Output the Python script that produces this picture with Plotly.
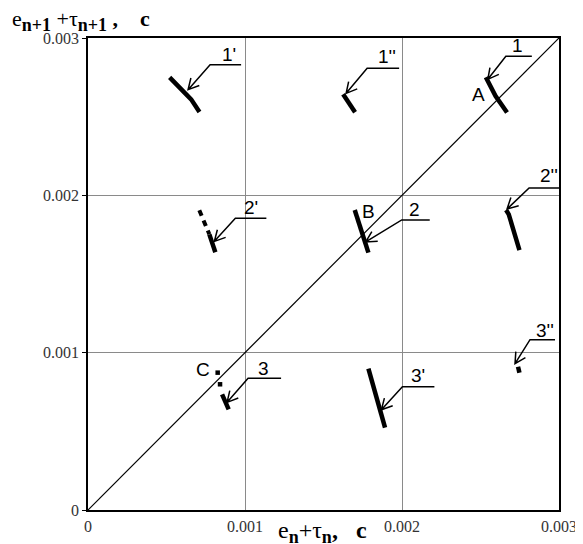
import math

import plotly.graph_objects as go

# ---------------------------------------------------------------------------
# Point clusters (seconds):  x = e_n + tau_n,  y = e_n+1 + tau_n+1
# ---------------------------------------------------------------------------

diag_x = [0.0, 0.003]
diag_y = [0.0, 0.003]

x_1p = [0.00052, 0.000593, 0.000657, 0.00071]
y_1p = [0.00275, 0.002678, 0.00261, 0.00253]

x_1pp = [0.001625, 0.001663, 0.001701]
y_1pp = [0.002642, 0.002585, 0.002528]

x_1 = [0.002534, 0.002596, 0.002669]
y_1 = [0.00275, 0.002631, 0.002526]

x_2p_dash = [0.000709, 0.000773]
y_2p_dash = [0.001905, 0.001752]
x_2p = [0.000773, 0.000811]
y_2p = [0.001752, 0.001638]

x_2 = [0.001699, 0.001743, 0.001786]
y_2 = [0.001907, 0.001771, 0.001636]

x_2pp = [0.002663, 0.00268, 0.002748]
y_2pp = [0.001907, 0.001879, 0.001652]

x_3_dots = [0.000826, 0.000841]
y_3_dots = [0.000873, 0.000799]
x_3 = [0.000854, 0.000896]
y_3 = [0.000735, 0.00064]

x_3p = [0.001786, 0.001839, 0.001892]
y_3p = [0.000898, 0.000711, 0.000523]

x_3pp = [0.002739, 0.002748]
y_3pp = [0.000911, 0.000873]

tick_vals = [0.0, 0.001, 0.002, 0.003]
tick_text = ["0", "0.001", "0.002", "0.003"]

SANS = "Liberation Sans, Arial, sans-serif"
SERIF = "Liberation Serif, Times New Roman, serif"

fig = go.Figure()

# bisector y = x
fig.add_trace(go.Scatter(x=diag_x, y=diag_y, mode="lines",
                         line=dict(color="black", width=1.2)))

# thick solid parts of the clusters
for xs, ys in [(x_1p, y_1p), (x_1pp, y_1pp), (x_1, y_1), (x_2p, y_2p), (x_2, y_2),
               (x_2pp, y_2pp), (x_3, y_3), (x_3p, y_3p), (x_3pp, y_3pp)]:
    fig.add_trace(go.Scatter(x=xs, y=ys, mode="lines",
                             line=dict(color="black", width=4.5)))

# broken parts
fig.add_trace(go.Scatter(x=x_2p_dash, y=y_2p_dash, mode="lines",
                         line=dict(color="black", width=4, dash="6px,5px")))
fig.add_trace(go.Scatter(x=x_3_dots, y=y_3_dots, mode="markers",
                         marker=dict(color="black", size=4.5, symbol="square")))


# ---------------------------------------------------------------------------
# Leader lines: open arrow head, slanted shaft, horizontal shelf, label on top
# (offsets in screen pixels from a cluster point, y pointing down)
# ---------------------------------------------------------------------------

def leader(text, xs, ys, i, tip, elbow, end, lab, head=12, spread=28):
    x0, y0 = xs[i], ys[i]
    dx, dy = elbow[0] - tip[0], elbow[1] - tip[1]
    ang = math.atan2(dy, dx)
    wings = []
    for s in (1, -1):
        a = ang + s * math.radians(spread)
        wings.append((tip[0] + head * math.cos(a), tip[1] + head * math.sin(a)))

    def p(pt):
        return f"{pt[0]:.1f},{-pt[1]:.1f}"

    path = (f"M{p(wings[0])} L{p(tip)} L{p(wings[1])} "
            f"M{p(tip)} L{p(elbow)} L{p(end)}")
    fig.add_shape(type="path", xref="x", yref="y", xsizemode="pixel", ysizemode="pixel",
                  xanchor=x0, yanchor=y0, path=path,
                  line=dict(color="black", width=1.5))
    fig.add_annotation(x=x0, y=y0, xshift=lab[0], yshift=-lab[1], text=text,
                       showarrow=False, font=dict(family=SANS, size=19, color="black"))


def letter(text, xs, ys, i, off):
    fig.add_annotation(x=xs[i], y=ys[i], xshift=off[0], yshift=-off[1], text=text,
                       showarrow=False, font=dict(family=SANS, size=19, color="black"))


leader("1'", x_1p, y_1p, 1, (7, 1), (29, -24), (60, -24), (48, -34))
leader("1''", x_1pp, y_1pp, 0, (3, -1), (24, -26), (56, -26), (44, -38))
leader("1", x_1, y_1, 0, (2, 2), (20, -21), (46, -21), (32, -32))
leader("2'", x_2p, y_2p, 0, (5, 7), (26, -16), (57, -16), (42, -27))
leader("2", x_2, y_2, 0, (11, 32), (47, 10), (75, 10), (60, 0))
leader("2''", x_2pp, y_2pp, 0, (1, -1), (23, -22), (55, -22), (43, -34))
leader("3", x_3, y_3, 0, (5, 8), (26, -16), (59, -16), (41, -26))
leader("3'", x_3p, y_3p, 0, (13, 41), (34, 18), (66, 18), (50, 7))
leader("3''", x_3pp, y_3pp, 0, (-3, -3), (12, -27), (37, -27), (27, -36))

letter("A", x_1, y_1, 0, (-7, 17))
letter("B", x_2, y_2, 0, (14, 2))
letter("C", x_3, y_3, 0, (-19, -25))

# axis titles
SUB = "<sub><span style='font-size:18px'><b>{}</b></span></sub>"
NB = "\u00a0"
fig.add_annotation(xref="paper", yref="paper", x=-0.166, y=1.037, xanchor="left",
                   yanchor="middle", showarrow=False,
                   text=("e" + SUB.format("n+1") + NB + "+τ" + SUB.format("n+1")
                         + f"<b>{NB},{NB * 4}c</b>"),
                   font=dict(family=SERIF, size=22, color="black"))
fig.add_annotation(xref="paper", yref="paper", x=0.498, y=-0.047, xanchor="center",
                   yanchor="middle", showarrow=False,
                   text=("e" + SUB.format("n") + "+τ" + SUB.format("n")
                         + f"<b>,{NB * 3}c</b>"),
                   font=dict(family=SERIF, size=24, color="black"))

axis_common = dict(
    range=[0, 0.003],
    tickvals=tick_vals,
    ticktext=tick_text,
    showgrid=True,
    gridcolor="#8a8a8a",
    gridwidth=1,
    zeroline=False,
    showline=True,
    mirror=True,
    linecolor="black",
    linewidth=1.5,
    automargin=False,
    tickfont=dict(family=SERIF, size=16, color="#333333"),
)

fig.update_xaxes(**axis_common, ticks="", ticklabelstandoff=1)
fig.update_yaxes(**axis_common, ticks="outside", ticklen=4, tickcolor="black")

# the page body adds an 8px offset, so the figure is 8px smaller on each side
fig.update_layout(
    width=575,
    height=536,
    autosize=False,
    margin=dict(l=80, r=24, t=30, b=34),
    showlegend=False,
    plot_bgcolor="white",
    paper_bgcolor="white",
)

# no scrollbars eating into the right edge
fig.write_html("out.html", post_script="document.body.style.overflow = 'hidden';")
